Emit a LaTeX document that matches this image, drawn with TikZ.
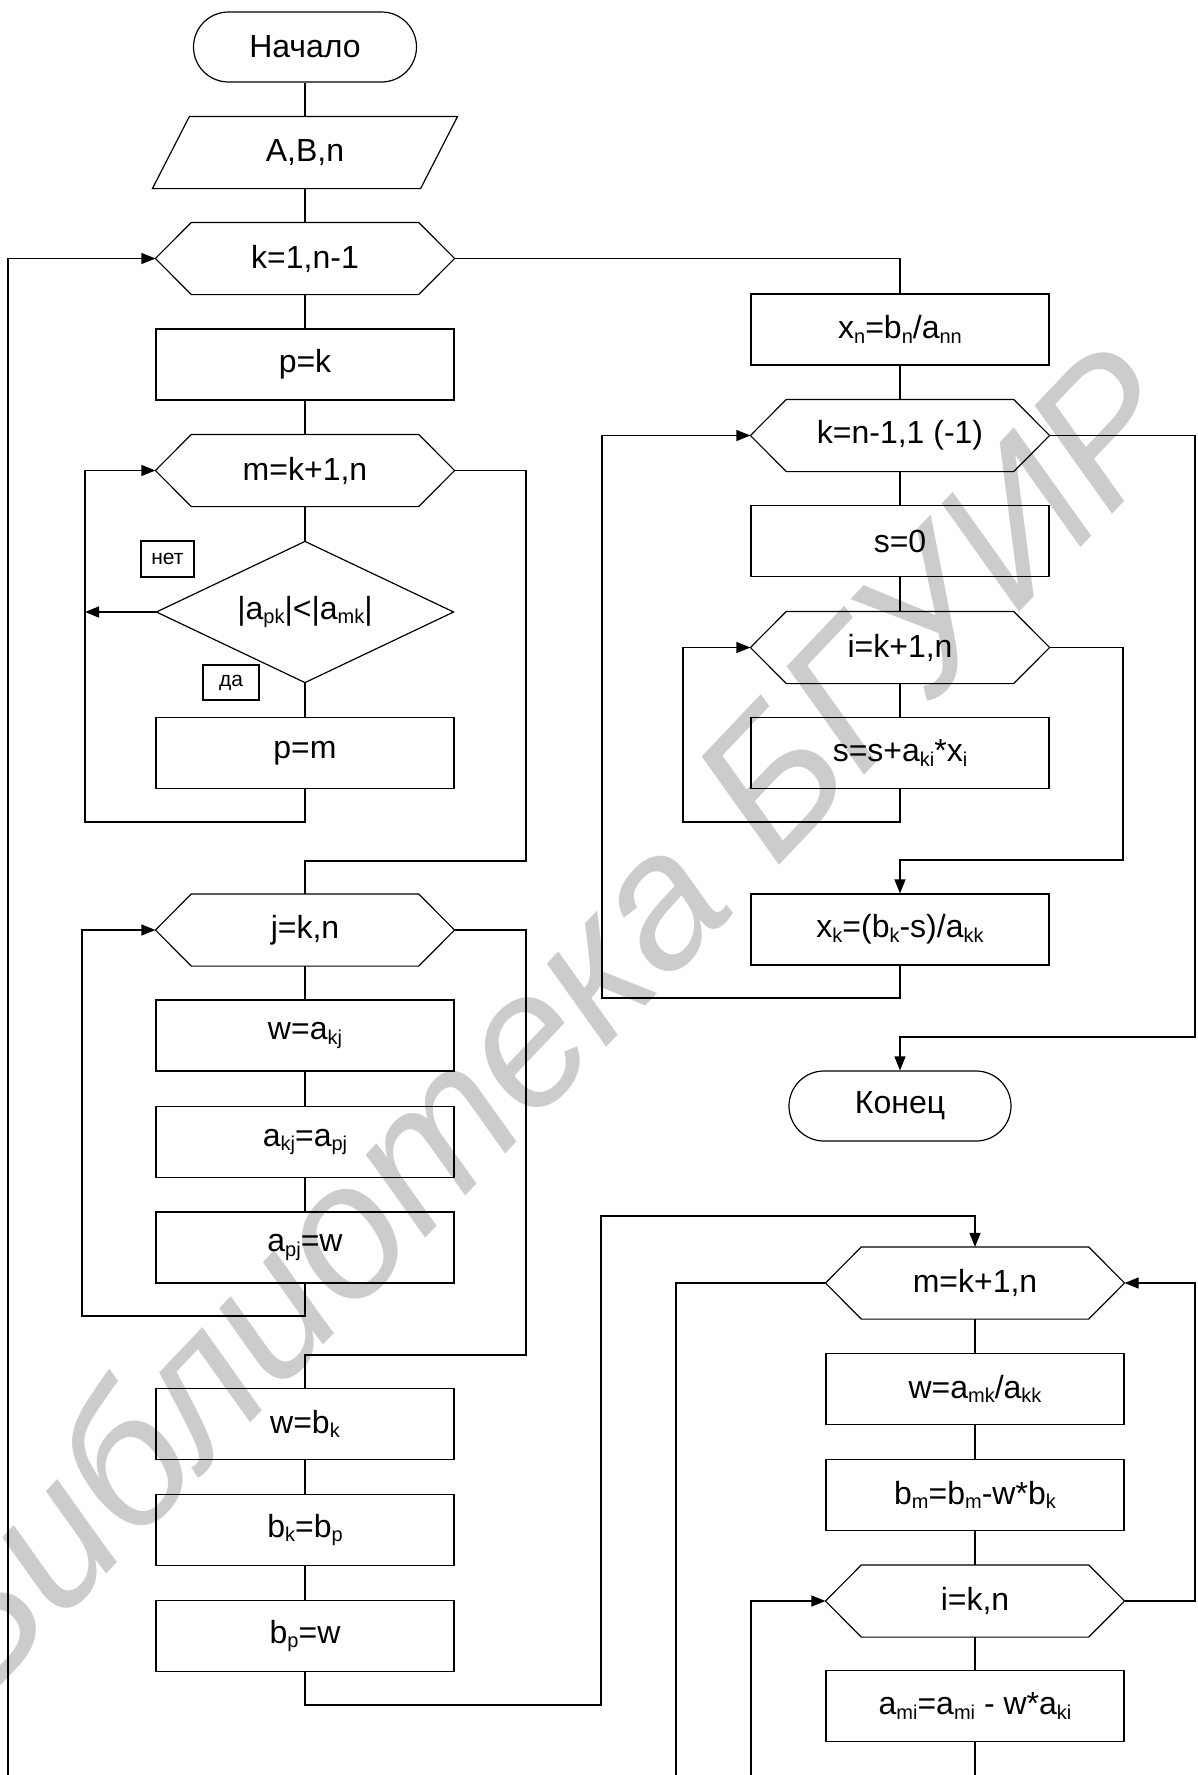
\documentclass[tikz,border=0pt]{standalone}
\usepackage{fontspec}
\setmainfont{Liberation Sans}
\usetikzlibrary{arrows.meta}
\definecolor{wmark}{RGB}{204,204,204}
% lowered, smaller index text
\newcommand\lo[1]{\raisebox{-4.5pt}{\fontsize{20}{20}\selectfont #1}}
% hexagonal loop header drawn around a named holder node
\newcommand\hexdraw[1]{\draw (#1.west) -- ([xshift=36pt]#1.north west) -- ([xshift=-36pt]#1.north east) -- (#1.east) -- ([xshift=-36pt]#1.south east) -- ([xshift=36pt]#1.south west) -- cycle;}
\begin{document}
\begin{tikzpicture}[x=1pt,y=-1pt,
  line width=1.2pt,
  every node/.style={font=\fontsize{32}{38}\selectfont, inner sep=0pt},
  proc/.style={draw, rectangle, minimum width=298pt, minimum height=71pt},
  hexbox/.style={rectangle, minimum width=298pt, minimum height=71pt},
  term/.style={draw, rectangle, rounded corners=35pt, minimum width=223pt, minimum height=70pt},
  tag/.style={draw, rectangle, font=\fontsize{21}{25}\selectfont},
  arr/.style={-{Triangle[length=14pt,width=11pt]}}
]
\useasboundingbox (0,0) rectangle (1198,1775);

% watermark
\node[rotate=46.5, text=wmark, font=\fontsize{190}{190}\selectfont\itshape] (wm) at (536,1022) {Библиотека БГУИР};

% ---- main column ----
\node[term] (start) at (305,47) {Начало};
\node[rectangle, minimum width=304pt, minimum height=71pt] (inp) at (305,152.5) {A,B,n};
\draw ([xshift=37pt]inp.north west) -- (inp.north east) -- ([xshift=-37pt]inp.south east) -- (inp.south west) -- cycle;
\node[hexbox] (loopk) at (305,258.5) {k=1,n-1}; \hexdraw{loopk}
\node[proc] (pk) at (305,364.5) {p=k};
\node[hexbox] (loopm) at (305,470.5) {m=k+1,n}; \hexdraw{loopm}
\node[rectangle, minimum width=296pt, minimum height=140pt] (cond) at (305,612) {|a\lo{pk}|<|a\lo{mk}|};
\draw (cond.west) -- (cond.north) -- (cond.east) -- (cond.south) -- cycle;
\node[tag, minimum width=53pt, minimum height=36pt] (no) at (167.5,559) {нет};
\node[tag, minimum width=56pt, minimum height=35pt] (yes) at (231,682.5) {да};
\node[proc] (pm) at (305,753) {p=m};
\node[hexbox] (loopj) at (305,930) {j=k,n}; \hexdraw{loopj}
\node[proc] (wa) at (305,1035.5) {w=a\lo{kj}};
\node[proc] (akj) at (305,1142) {a\lo{kj}=a\lo{pj}};
\node[proc] (apj) at (305,1247.5) {a\lo{pj}=w};
\node[proc] (wb) at (305,1424) {w=b\lo{k}};
\node[proc] (bk) at (305,1530) {b\lo{k}=b\lo{p}};
\node[proc] (bp) at (305,1636) {b\lo{p}=w};

% ---- back substitution ----
\node[proc] (xn) at (900,329.5) {x\lo{n}=b\lo{n}/a\lo{nn}};
\node[hexbox] (loopkb) at (900,435.5) {k=n-1,1 (-1)}; \hexdraw{loopkb}
\node[proc] (s0) at (900,541) {s=0};
\node[hexbox] (loopi) at (900,647.5) {i=k+1,n}; \hexdraw{loopi}
\node[proc] (ss) at (900,753) {s=s+a\lo{ki}*x\lo{i}};
\node[proc] (xk) at (900,929.5) {x\lo{k}=(b\lo{k}-s)/a\lo{kk}};
\node[term, minimum width=222pt] (stop) at (900,1106) {Конец};

% ---- elimination ----
\node[hexbox] (loopm2) at (975,1283) {m=k+1,n}; \hexdraw{loopm2}
\node[proc] (wmk) at (975,1389) {w=a\lo{mk}/a\lo{kk}};
\node[proc] (bm) at (975,1495) {b\lo{m}=b\lo{m}-w*b\lo{k}};
\node[hexbox] (loopi2) at (975,1601) {i=k,n}; \hexdraw{loopi2}
\node[proc] (ami) at (975,1706) {a\lo{mi}=a\lo{mi} - w*a\lo{ki}};

% ---- route points ----
\coordinate (lk) at (8,1775);
\coordinate (lm) at (85,822);
\coordinate (rm) at (526,861);
\coordinate (lj) at (82,1316);
\coordinate (rj) at (526,1355);
\coordinate (bt) at (601,1705);
\coordinate (tp) at (601,1216);
\coordinate (li) at (683,822);
\coordinate (ri) at (1123,860);
\coordinate (lkb) at (602,998);
\coordinate (rkb) at (1195,1037);
\coordinate (lm2) at (676,1775);
\coordinate (li2) at (751,1775);
\coordinate (ri2) at (1195,1440);
\coordinate (bot) at (975,1775);

% ---- connectors ----
\draw (start) -- (inp);
\draw (inp) -- (loopk.north);
\draw (loopk.south) -- (pk);
\draw (pk) -- (loopm.north);
\draw (loopm.south) -- (cond.north);
\draw (cond.south) -- (pm);
\draw[arr] (pm.south) |- (lm) |- (loopm.west);
\draw[arr] (cond.west) -- (cond.west -| lm);
\draw (loopm.east) -| (rm) -| (loopj.north);
\draw (loopj.south) -- (wa);
\draw (wa) -- (akj);
\draw (akj) -- (apj);
\draw[arr] (apj.south) |- (lj) |- (loopj.west);
\draw (loopj.east) -| (rj) -| (wb.north);
\draw (wb) -- (bk);
\draw (bk) -- (bp);
\draw[arr] (bp.south) |- (bt) -- (tp) -| (loopm2.north);
\draw[arr] (lk) |- (loopk.west);

\draw (loopk.east) -| (xn.north);
\draw (xn) -- (loopkb.north);
\draw (loopkb.south) -- (s0);
\draw (s0) -- (loopi.north);
\draw (loopi.south) -- (ss);
\draw[arr] (ss.south) |- (li) |- (loopi.west);
\draw[arr] (loopi.east) -| (ri) -| (xk.north);
\draw[arr] (xk.south) |- (lkb) |- (loopkb.west);
\draw[arr] (loopkb.east) -| (rkb) -| (stop.north);

\draw (loopm2.south) -- (wmk);
\draw (wmk) -- (bm);
\draw (bm) -- (loopi2.north);
\draw (loopi2.south) -- (ami);
\draw (ami.south) -- (bot);
\draw (loopm2.west) -| (lm2);
\draw[arr] (li2) |- (loopi2.west);
\draw[arr] (loopi2.east) -| (ri2) |- (loopm2.east);
\end{tikzpicture}
\end{document}
